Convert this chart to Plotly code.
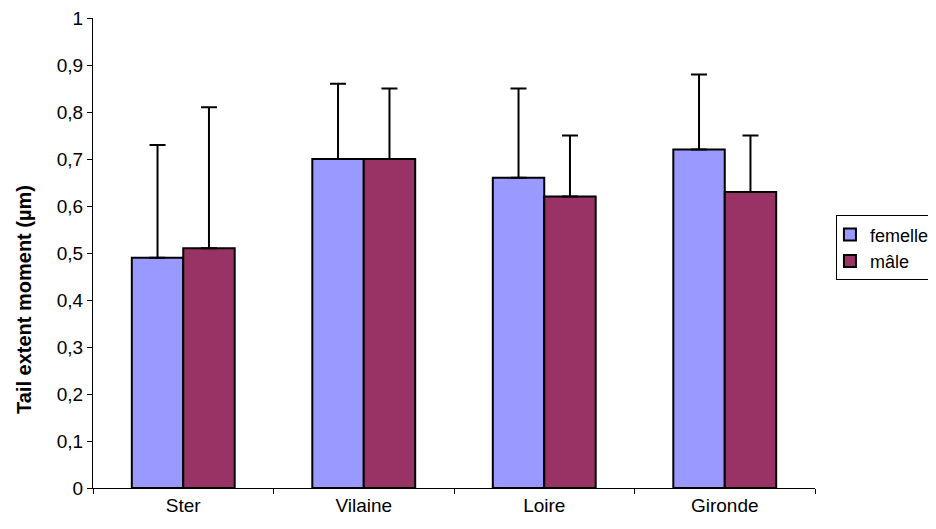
import plotly.graph_objects as go

categories = ["Ster", "Vilaine", "Loire", "Gironde"]
femelle = [0.49, 0.70, 0.66, 0.72]
femelle_err = [0.24, 0.16, 0.19, 0.16]
male = [0.51, 0.70, 0.62, 0.63]
male_err = [0.30, 0.15, 0.13, 0.12]
ytick_vals = [0, 0.1, 0.2, 0.3, 0.4, 0.5, 0.6, 0.7, 0.8, 0.9, 1]
ytick_text = ["0", "0,1", "0,2", "0,3", "0,4", "0,5", "0,6", "0,7", "0,8", "0,9", "1"]
y_title = "Tail extent moment (µm)"

fig = go.Figure()
fig.add_trace(go.Bar(
    x=categories, y=femelle, name="femelle",
    marker=dict(color="#9999FF", line=dict(color="black", width=2)),
    error_y=dict(type="data", symmetric=False, array=femelle_err,
                 arrayminus=[0] * len(femelle), color="black", thickness=2, width=8),
))
fig.add_trace(go.Bar(
    x=categories, y=male, name="mâle",
    marker=dict(color="#993366", line=dict(color="black", width=2)),
    error_y=dict(type="data", symmetric=False, array=male_err,
                 arrayminus=[0] * len(male), color="black", thickness=2, width=8),
))

# page body has an 8px default margin, so the figure is 8px smaller and offset
fig.update_layout(
    width=928, height=521,
    margin=dict(l=85, r=121, t=10, b=41, autoexpand=False),
    paper_bgcolor="white", plot_bgcolor="white",
    barmode="group", bargap=0.43, bargroupgap=0,
    font=dict(family="Liberation Sans, Arial, sans-serif", size=19, color="black"),
    legend=dict(x=1.029, y=0.511, xanchor="left", yanchor="middle",
                bordercolor="black", borderwidth=1, bgcolor="white",
                font=dict(size=18), itemwidth=30, indentation=-7),
    showlegend=True,
    annotations=[dict(
        text="<b>" + y_title + "</b>", textangle=-90,
        xref="paper", yref="paper", x=0, y=0.40, xshift=-69,
        xanchor="center", yanchor="middle", showarrow=False,
        font=dict(size=20),
    )],
)
fig.update_xaxes(
    showline=True, linecolor="black", linewidth=1,
    ticks="outside", tickson="boundaries", ticklen=5, tickcolor="black",
    showgrid=False,
)
fig.update_yaxes(
    range=[0, 1], showline=True, linecolor="black", linewidth=1,
    ticks="outside", ticklen=5, tickcolor="black",
    tickvals=ytick_vals, ticktext=ytick_text, ticklabeloverflow="allow",
    showgrid=False, zeroline=False,
)

fig.write_html("out.html")
